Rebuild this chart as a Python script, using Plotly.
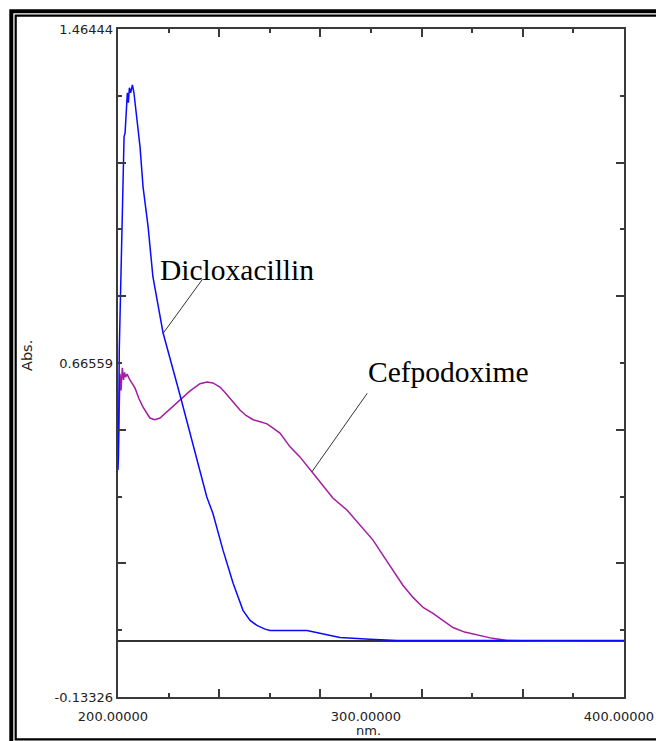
import plotly.graph_objects as go

# ---- data ----
wl_dicloxacillin = [200.0, 200.2, 200.5, 201.2, 201.5, 202.1, 202.4, 202.8, 203.2, 203.7, 204.1,
                    204.5, 205.0, 205.7, 206.3, 207.1, 208.7, 209.9, 211.9, 213.8, 217.8, 224.5,
                    227.7, 231.3, 235.1, 237.5, 241.5, 245.5, 249.4, 252.2, 254.9, 258.1, 260.1,
                    268.0, 274.7, 279.8, 287.7, 299.6, 310.3, 350.0, 400.0]
abs_dicloxacillin = [0.410, 0.445, 0.697, 0.896, 1.015, 1.121, 1.207, 1.216, 1.272, 1.312, 1.288,
                     1.324, 1.312, 1.331, 1.312, 1.272, 1.183, 1.087, 0.991, 0.872, 0.738, 0.589,
                     0.515, 0.434, 0.345, 0.306, 0.218, 0.139, 0.074, 0.050, 0.038, 0.029, 0.026,
                     0.026, 0.026, 0.019, 0.009, 0.005, 0.002, 0.002, 0.002]

wl_cefpodoxime = [200.0, 200.4, 200.8, 201.2, 201.7, 202.2, 202.6, 203.0, 203.6, 204.7, 206.7,
                  208.3, 209.9, 212.6, 214.5, 216.6, 218.6, 220.6, 224.5, 228.5, 232.4, 235.2,
                  237.5, 240.3, 242.3, 244.3, 248.2, 250.6, 253.4, 256.2, 258.9, 261.3, 264.0,
                  268.0, 271.9, 277.1, 281.0, 285.0, 290.5, 295.7, 300.8, 304.7, 308.7, 312.6,
                  316.6, 320.6, 324.5, 328.5, 332.4, 337.0, 343.1, 348.0, 353.8, 370.8, 385.0, 400.0]
abs_cefpodoxime = [0.430, 0.560, 0.640, 0.600, 0.654, 0.625, 0.643, 0.632, 0.639, 0.625, 0.606,
                   0.580, 0.560, 0.534, 0.530, 0.534, 0.545, 0.555, 0.577, 0.599, 0.616, 0.620,
                   0.618, 0.608, 0.595, 0.580, 0.553, 0.540, 0.530, 0.525, 0.520, 0.510, 0.498,
                   0.465, 0.441, 0.402, 0.372, 0.342, 0.314, 0.278, 0.242, 0.206, 0.170, 0.134,
                   0.105, 0.081, 0.067, 0.050, 0.033, 0.022, 0.014, 0.007, 0.002, 0.000, 0.001, 0.001]

x_range = [200.0, 400.0]
y_range = [-0.13326, 1.46444]
x_label_vals = [200.0, 300.0, 400.0]
x_label_text = ["200.00000", "300.00000", "400.00000"]
y_label_vals = [-0.13326, 0.66559, 1.46444]
y_label_text = ["-0.13326", "0.66559", "1.46444"]

# annotation labels: (text, text x, text y, leader start x, y, leader end x, y)
labels = [
    ("Dicloxacillin", 216.0, 0.888, 233.4, 0.866, 217.9, 0.737),
    ("Cefpodoxime", 298.0, 0.644, 298.5, 0.593, 276.6, 0.405),
]

W, H = 656, 741
L, R, T, B = 118, 32, 29, 44
PW, PH = W - L - R, H - T - B


def xp(px):
    return (px - L) / PW


def yp(py):
    return (H - B - py) / PH


fig = go.Figure()
fig.add_trace(go.Scatter(x=wl_cefpodoxime, y=abs_cefpodoxime, mode="lines",
                         line=dict(color="#A41CA4", width=1.5), name="Cefpodoxime",
                         showlegend=False))
fig.add_trace(go.Scatter(x=wl_dicloxacillin, y=abs_dicloxacillin, mode="lines",
                         line=dict(color="#0A0AFF", width=1.5), name="Dicloxacillin",
                         showlegend=False))
# invisible trace for label axes
fig.add_trace(go.Scatter(x=x_range, y=y_range, xaxis="x2", yaxis="y2", mode="lines",
                         line=dict(width=0), hoverinfo="skip", showlegend=False, opacity=0))

ystep = (y_range[1] - y_range[0]) / 10
axis_col = "#3a3a3a"

fig.update_layout(
    width=W, height=H, autosize=False,
    margin=dict(l=L, r=R, t=T, b=B, pad=0, autoexpand=False),
    paper_bgcolor="white", plot_bgcolor="white",
    font=dict(family="DejaVu Sans", size=13, color="#222"),
    xaxis=dict(range=x_range, showgrid=False, zeroline=False, showline=True, automargin=False,
               linecolor=axis_col, linewidth=2, mirror="ticks",
               ticks="inside", tickmode="linear", tick0=200, dtick=40, ticklen=8,
               tickwidth=1.5, tickcolor=axis_col, showticklabels=False,
               minor=dict(ticks="inside", tickmode="linear", tick0=200, dtick=20,
                          ticklen=4, tickwidth=1.5, tickcolor=axis_col, showgrid=False)),
    yaxis=dict(range=y_range, showgrid=False, zeroline=True, zerolinecolor="#333",
               zerolinewidth=1.5, showline=True, linecolor=axis_col, linewidth=2,
               automargin=False,
               mirror="ticks", ticks="inside", tickmode="linear", tick0=y_range[0],
               dtick=2 * ystep, ticklen=8, tickwidth=1.5, tickcolor=axis_col,
               showticklabels=False,
               minor=dict(ticks="inside", tickmode="linear", tick0=y_range[0], dtick=ystep,
                          ticklen=4, tickwidth=1.5, tickcolor=axis_col, showgrid=False)),
    xaxis2=dict(range=x_range, overlaying="x", anchor="y", side="bottom", showgrid=False,
                zeroline=False, showline=False, ticks="", tickmode="array", automargin=False,
                tickvals=x_label_vals, ticktext=x_label_text, ticklabelstandoff=10,
                ticklabelshift=-5, tickfont=dict(family="DejaVu Sans", size=13, color="#222")),
    yaxis2=dict(range=y_range, overlaying="y", anchor="x", side="left", showgrid=False,
                zeroline=False, showline=False, ticks="", tickmode="array", automargin=False,
                tickvals=y_label_vals, ticktext=y_label_text, ticklabelstandoff=4,
                tickfont=dict(family="DejaVu Sans", size=13, color="#222")),
)

annotations = [
    dict(text="Abs.", xref="paper", yref="paper", x=xp(27), y=yp(356), showarrow=False,
         textangle=-90, font=dict(family="DejaVu Sans", size=14.5, color="#222"),
         xanchor="center", yanchor="middle"),
    dict(text="nm.", xref="paper", yref="paper", x=xp(368), y=yp(731), showarrow=False,
         font=dict(family="DejaVu Sans", size=13, color="#222"),
         xanchor="center", yanchor="middle"),
]
shapes = []
for txt, tx, ty, x0, y0, x1, y1 in labels:
    annotations.append(dict(text=txt, x=tx, y=ty, xref="x", yref="y", showarrow=False,
                            xanchor="left", yanchor="middle",
                            font=dict(family="Liberation Serif", size=29.5, color="black")))
    shapes.append(dict(type="line", xref="x", yref="y", x0=x0, y0=y0, x1=x1, y1=y1,
                       line=dict(color="#333", width=1)))

# double picture frame
shapes.append(dict(type="rect", xref="paper", yref="paper", x0=xp(11.3), y0=yp(11.3),
                   x1=xp(720), y1=yp(744), line=dict(color="black", width=4),
                   fillcolor="rgba(0,0,0,0)", layer="above"))
shapes.append(dict(type="rect", xref="paper", yref="paper", x0=xp(15.7), y0=yp(15.7),
                   x1=xp(720), y1=yp(739.3), line=dict(color="black", width=2.2),
                   fillcolor="rgba(0,0,0,0)", layer="above"))

fig.update_layout(annotations=annotations, shapes=shapes)
fig.write_html("out.html", config={"displayModeBar": False},
               post_script="document.body.style.margin='0px';document.body.style.overflow='hidden';")
